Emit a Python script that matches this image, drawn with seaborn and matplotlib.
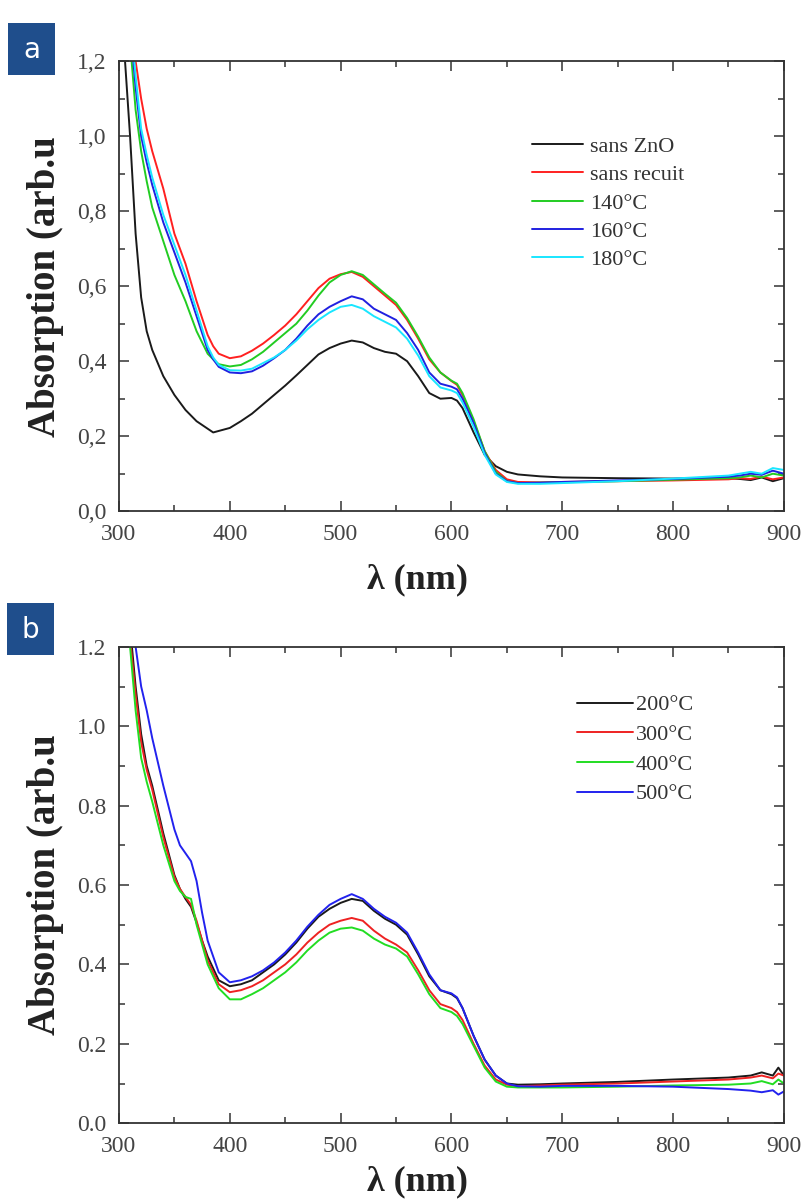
import numpy as np
import matplotlib
matplotlib.use("Agg")
import matplotlib.pyplot as plt
from matplotlib.patches import Rectangle
from matplotlib.ticker import MultipleLocator, FuncFormatter
import seaborn as sns
import pandas as pd

# ---- panel a data ----
wl_a = [300, 305, 310, 315, 320, 325, 330, 340, 350, 360, 370, 380, 385, 390,
        400, 410, 420, 430, 440, 450, 460, 470, 480, 490, 500, 510, 520, 530,
        540, 550, 560, 570, 580, 590, 600, 605, 610, 620, 630, 640, 650, 660,
        680, 700, 750, 800, 850, 860, 870, 880, 890, 900]
sans_zno = [2.0, 1.22, 1.0, 0.74, 0.57, 0.48, 0.43, 0.36, 0.31, 0.27, 0.24, 0.22, 0.21, 0.214,
            0.222, 0.24, 0.26, 0.285, 0.31, 0.335, 0.362, 0.39, 0.418, 0.435, 0.447, 0.455, 0.45, 0.435,
            0.425, 0.42, 0.40, 0.36, 0.315, 0.30, 0.302, 0.295, 0.275, 0.21, 0.15, 0.12, 0.105, 0.098,
            0.093, 0.09, 0.088, 0.087, 0.088, 0.086, 0.083, 0.09, 0.08, 0.088]
sans_recuit = [2.2, 1.7, 1.4, 1.2, 1.1, 1.02, 0.96, 0.86, 0.74, 0.66, 0.56, 0.47, 0.44, 0.42,
               0.408, 0.413, 0.428, 0.447, 0.47, 0.495, 0.525, 0.56, 0.595, 0.62, 0.632, 0.638, 0.625, 0.6,
               0.575, 0.55, 0.51, 0.46, 0.405, 0.37, 0.347, 0.337, 0.31, 0.24, 0.16, 0.11, 0.085, 0.078,
               0.077, 0.078, 0.08, 0.082, 0.085, 0.088, 0.086, 0.092, 0.085, 0.09]
t140 = [2.1, 1.55, 1.25, 1.07, 0.96, 0.88, 0.81, 0.72, 0.63, 0.56, 0.48, 0.42, 0.405, 0.392,
        0.386, 0.39, 0.405, 0.425, 0.45, 0.475, 0.5, 0.535, 0.575, 0.61, 0.63, 0.64, 0.63, 0.605,
        0.58, 0.556, 0.515, 0.465, 0.41, 0.37, 0.348, 0.34, 0.315, 0.245, 0.16, 0.105, 0.08, 0.075,
        0.076, 0.077, 0.08, 0.084, 0.088, 0.09, 0.095, 0.09, 0.1, 0.095]
t160 = [2.2, 1.6, 1.3, 1.13, 1.0, 0.93, 0.87, 0.77, 0.69, 0.61, 0.52, 0.43, 0.405, 0.385,
        0.37, 0.368, 0.373, 0.388, 0.408, 0.43, 0.46, 0.495, 0.525, 0.545, 0.56, 0.573, 0.565, 0.54,
        0.525, 0.51, 0.475, 0.43, 0.37, 0.34, 0.332, 0.325, 0.3, 0.235, 0.155, 0.1, 0.08, 0.075,
        0.076, 0.078, 0.082, 0.086, 0.092, 0.095, 0.1, 0.097, 0.108, 0.1]
t180 = [2.2, 1.65, 1.33, 1.16, 1.02, 0.95, 0.89, 0.79, 0.71, 0.63, 0.535, 0.44, 0.41, 0.39,
        0.376, 0.375, 0.38, 0.395, 0.41, 0.43, 0.455, 0.485, 0.51, 0.53, 0.545, 0.55, 0.54, 0.52,
        0.505, 0.49, 0.46, 0.415, 0.36, 0.33, 0.322, 0.315, 0.29, 0.225, 0.15, 0.098, 0.078, 0.073,
        0.073, 0.075, 0.08, 0.087, 0.095, 0.1, 0.105, 0.1, 0.115, 0.11]
labels_a = ["sans ZnO", "sans recuit", "140°C", "160°C", "180°C"]
colors_a = ["#1a1a1a", "#ff2020", "#22cc22", "#2020e0", "#19e6ff"]

# ---- panel b data ----
wl_b = [300, 305, 310, 315, 320, 325, 330, 340, 350, 355, 360, 365, 370, 375, 380, 390,
        400, 410, 420, 430, 440, 450, 460, 470, 480, 490, 500, 510, 520, 530,
        540, 550, 560, 570, 580, 590, 600, 605, 610, 620, 630, 640, 650, 660,
        680, 700, 750, 800, 850, 870, 880, 890, 895, 900]
t200 = [2.2, 1.5, 1.25, 1.1, 0.98, 0.9, 0.85, 0.73, 0.625, 0.59, 0.565, 0.545, 0.505, 0.46, 0.42, 0.36,
        0.345, 0.35, 0.36, 0.38, 0.4, 0.425, 0.455, 0.49, 0.52, 0.54, 0.555, 0.565, 0.56, 0.535,
        0.515, 0.5, 0.475, 0.425, 0.37, 0.335, 0.325, 0.315, 0.29, 0.22, 0.16, 0.12, 0.1, 0.097,
        0.098, 0.1, 0.104, 0.11, 0.115, 0.12, 0.128, 0.12, 0.14, 0.12]
t300 = [2.1, 1.45, 1.22, 1.08, 0.96, 0.89, 0.84, 0.72, 0.62, 0.59, 0.57, 0.55, 0.51, 0.46, 0.41, 0.35,
        0.33, 0.335, 0.345, 0.36, 0.38, 0.4, 0.425, 0.455, 0.48, 0.5, 0.51, 0.517, 0.51, 0.485,
        0.465, 0.45, 0.43, 0.385, 0.335, 0.3, 0.29, 0.28, 0.26, 0.2, 0.145, 0.11, 0.097, 0.093,
        0.095, 0.097, 0.1, 0.105, 0.11, 0.115, 0.12, 0.113, 0.125, 0.12]
t400 = [2.0, 1.4, 1.2, 1.04, 0.92, 0.86, 0.81, 0.7, 0.61, 0.585, 0.57, 0.565, 0.5, 0.45, 0.4, 0.34,
        0.312, 0.312, 0.325, 0.34, 0.36, 0.38, 0.405, 0.435, 0.46, 0.48, 0.49, 0.493, 0.485, 0.465,
        0.45, 0.44, 0.42, 0.375, 0.325, 0.29, 0.28, 0.27, 0.25, 0.195, 0.14, 0.105, 0.092, 0.09,
        0.09, 0.09, 0.092, 0.095, 0.097, 0.1, 0.106, 0.098, 0.11, 0.1]
t500 = [2.4, 1.8, 1.45, 1.2, 1.1, 1.04, 0.97, 0.85, 0.74, 0.7, 0.68, 0.66, 0.61, 0.53, 0.46, 0.38,
        0.355, 0.36, 0.37, 0.385, 0.405, 0.43, 0.46, 0.495, 0.525, 0.55, 0.565, 0.577, 0.565, 0.54,
        0.52, 0.505, 0.48, 0.43, 0.375, 0.335, 0.327, 0.317, 0.29, 0.22, 0.16, 0.12, 0.1, 0.093,
        0.092, 0.094, 0.094, 0.092, 0.086, 0.082, 0.078, 0.083, 0.072, 0.08]
labels_b = ["200°C", "300°C", "400°C", "500°C"]
colors_b = ["#1a1a1a", "#ee2222", "#22dd22", "#2222ee"]


def longForm(wl, series, labels):
    frames = [pd.DataFrame({"wl": wl, "A": s, "serie": lab}) for s, lab in zip(series, labels)]
    return pd.concat(frames, ignore_index=True)


df_a = longForm(wl_a, [sans_zno, sans_recuit, t140, t160, t180], labels_a)
df_b = longForm(wl_b, [t200, t300, t400, t500], labels_b)

sns.set_style("ticks")
plt.rcParams["font.family"] = ["Liberation Serif", "DejaVu Serif"]

fig = plt.figure(figsize=(8.04, 12), dpi=100)
ax_a = fig.add_axes([0.148, 0.574, 0.827, 0.375])
ax_b = fig.add_axes([0.148, 0.064, 0.827, 0.397])


def styleAxis(ax, comma, xlab_y):
    ax.set_xlim(300, 900)
    ax.set_ylim(0, 1.2)
    ax.xaxis.set_major_locator(MultipleLocator(100))
    ax.xaxis.set_minor_locator(MultipleLocator(50))
    ax.yaxis.set_major_locator(MultipleLocator(0.2))
    ax.yaxis.set_minor_locator(MultipleLocator(0.1))
    if comma:
        ax.yaxis.set_major_formatter(FuncFormatter(lambda v, p: f"{v:.1f}".replace(".", ",")))
    else:
        ax.yaxis.set_major_formatter(FuncFormatter(lambda v, p: f"{v:.1f}"))
    ax.tick_params(which="both", direction="in", top=True, right=True,
                   color="#333333", width=1.1, labelsize=17, labelcolor="#444444", pad=9)
    ax.tick_params(which="major", length=7)
    ax.tick_params(which="minor", length=4)
    for sp in ax.spines.values():
        sp.set_color("#333333")
        sp.set_linewidth(1.3)
    ax.set_xlabel("λ (nm)", fontsize=26, fontweight="bold", color="#222222")
    ax.set_ylabel("Absorption (arb.u", fontsize=28, fontweight="bold", color="#222222")
    ax.xaxis.set_label_coords(0.449, xlab_y)
    ax.yaxis.set_label_coords(-0.083, 0.5)


sns.lineplot(data=df_a, x="wl", y="A", hue="serie", hue_order=labels_a,
             palette=dict(zip(labels_a, colors_a)), linewidth=1.4, ax=ax_a)
sns.lineplot(data=df_b, x="wl", y="A", hue="serie", hue_order=labels_b,
             palette=dict(zip(labels_b, colors_b)), linewidth=1.4, ax=ax_b)

styleAxis(ax_a, True, -0.116)
styleAxis(ax_b, False, -0.088)

ax_a.legend(loc="upper left", bbox_to_anchor=(0.621, 0.833), frameon=False,
            fontsize=16, labelspacing=0.35, handlelength=2.3, handletextpad=0.3,
            borderpad=0, borderaxespad=0, labelcolor="#333333")
ax_b.legend(loc="upper left", bbox_to_anchor=(0.689, 0.899), frameon=False,
            fontsize=16, labelspacing=0.41, handlelength=2.5, handletextpad=0.15,
            borderpad=0, borderaxespad=0, labelcolor="#333333")

# panel letters in blue boxes
for lab, (x0, y0) in zip(["a", "b"], [(8, 23), (7, 603)]):
    fig.patches.append(Rectangle((x0 / 804, 1 - (y0 + 52) / 1200), 47 / 804, 52 / 1200,
                                 transform=fig.transFigure, facecolor="#1f4e8c",
                                 edgecolor="none", zorder=5))
    fig.text((x0 + 23.5) / 804, 1 - (y0 + 27) / 1200, lab, color="white",
             fontsize=20, family="DejaVu Sans", ha="center", va="center", zorder=6)

fig.savefig("out.png", dpi=100)
plt.close()
